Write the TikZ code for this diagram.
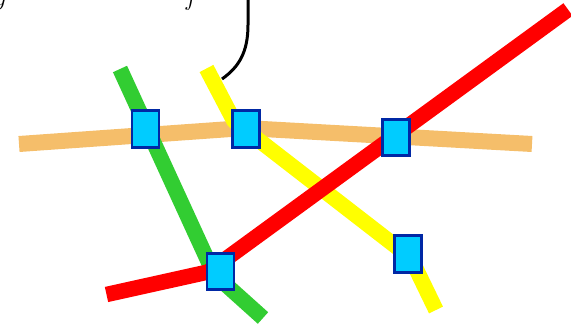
\documentclass[tikz,border=0pt]{standalone}
\usepackage{tikz}
\definecolor{trackorange}{RGB}{245,190,106}
\definecolor{trackgreen}{RGB}{50,205,50}
\definecolor{trackyellow}{RGB}{255,255,0}
\definecolor{trackred}{RGB}{255,0,0}
\definecolor{stopfill}{RGB}{0,204,255}
\definecolor{stopedge}{RGB}{0,40,165}
\begin{document}
\begin{tikzpicture}[x=1pt,y=-1pt,
  track/.style={line width=15.5pt, line cap=butt, line join=round},
  stopbox/.style={draw=stopedge, fill=stopfill, line width=2.6pt,
    minimum width=27pt, minimum height=36.5pt, inner sep=0pt},
  bigmath/.style={inner sep=0pt, font=\fontsize{46}{52}\selectfont}]
\useasboundingbox (0,0) rectangle (571,326);
\clip (0,0) rectangle (571,326);

% label text above the frame, only its lower part shows
\node[bigmath, anchor=base west] (ylab) at (-6,6) {$y$};
\node[bigmath, anchor=base west] (comma) at (31,-5) {$,$};
\node[bigmath, anchor=base west] (flab) at (184,6) {$f$};

% route points
\coordinate (oA) at (19,144);
\coordinate (oB) at (245,128);
\coordinate (oC) at (532,144);
\coordinate (gA) at (120,69);
\coordinate (gB) at (214,274);
\coordinate (gC) at (263,318);
\coordinate (yA) at (206.5,68.5);
\coordinate (yB) at (234,121);
\coordinate (yC) at (410.7,257.8);
\coordinate (yD) at (436,310);
\coordinate (rA) at (106.5,294.5);
\coordinate (rB) at (208,272);
\coordinate (rC) at (568,9.5);

% tracks
\draw[track, line width=16pt, trackorange] (oA) -- (oB) -- (oC);
\draw[track, trackgreen] (gA) -- (gB) -- (gC);
\draw[track, trackyellow] (yA) -- (yB) -- (yC) -- (yD);
\draw[track, trackred] (rA) -- (rB) -- (rC);

% pointer from the label down to the yellow track
\coordinate (ptop) at (248,-2);
\draw[line width=3pt, black] (ptop) -- (248,25) .. controls (248,52) and (239,67) .. (222,79);

% stops
\node[stopbox] (s1) at (145.5,129) {};
\node[stopbox] (s2) at (246,129) {};
\node[stopbox] (s3) at (396,137.5) {};
\node[stopbox] (s4) at (220.5,271.5) {};
\node[stopbox] (s5) at (408,254) {};
\end{tikzpicture}
\end{document}
